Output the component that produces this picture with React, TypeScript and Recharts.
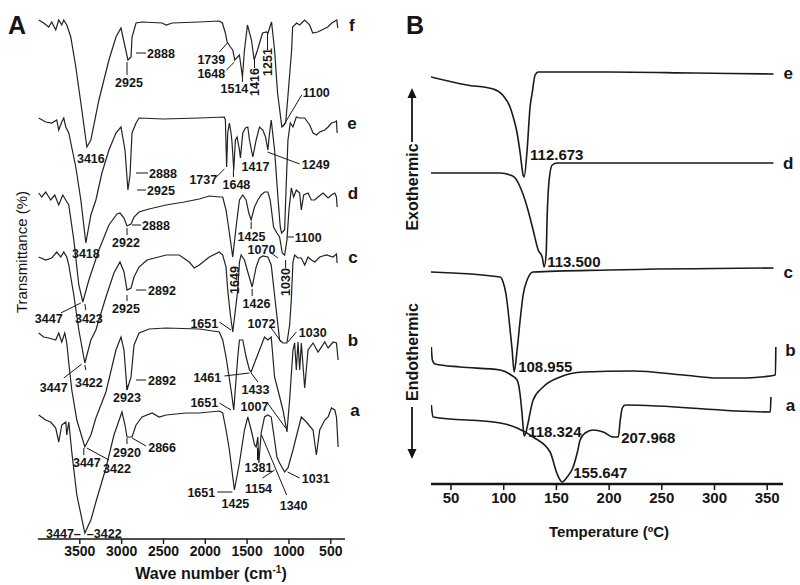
import React from 'react';
import { LineChart, Line, XAxis, YAxis, ReferenceLine, ReferenceDot } from 'recharts';

type Pt = [number, number];
type Note = { t: string; x: number; y: number; a?: 'start' | 'middle' | 'end'; r?: boolean };

const FONT = '"Liberation Sans", Arial, sans-serif';
const INK = '#151515';

// ---------- Panel A: FTIR (wave number, trace depth read from top) ----------
const ftirTicks = [3500, 3000, 2500, 2000, 1500, 1000, 500];

const ftirF: Pt[] = [
  [3992, 20], [3932, 23], [3872, 27], [3836, 22], [3788, 30], [3752, 20], [3716, 25], [3692, 20], [3656, 25],
  [3608, 37], [3548, 67], [3476, 110], [3416, 147], [3368, 140], [3272, 100], [3152, 60], [3068, 37], [3008, 28],
  [2925, 60], [2888, 57], [2876, 37], [2828, 23], [2756, 22], [2516, 23], [2468, 25], [2396, 23], [2072, 22],
  [1832, 21], [1796, 23], [1760, 33], [1739, 42], [1700, 47], [1672, 50], [1648, 60], [1592, 55], [1556, 77],
  [1532, 50], [1496, 25], [1448, 40], [1416, 60], [1376, 50], [1316, 33], [1268, 32], [1251, 33], [1208, 22],
  [1172, 50], [1136, 93], [1085, 127], [1040, 123], [1016, 100], [968, 50], [956, 27], [908, 23], [872, 25],
  [812, 20], [752, 25], [716, 33], [656, 32], [608, 30], [536, 27], [488, 23], [428, 20], [416, 28],
];

const ftirE: Pt[] = [
  [3992, 118], [3908, 122], [3836, 123], [3776, 120], [3752, 130], [3716, 122], [3692, 118], [3668, 127],
  [3632, 133], [3548, 167], [3488, 200], [3428, 243], [3368, 215], [3308, 200], [3236, 173], [3152, 150],
  [3068, 133], [3008, 127], [2960, 150], [2925, 190], [2900, 175], [2876, 133], [2828, 123], [2792, 118],
  [2500, 119], [2072, 118], [1772, 117], [1760, 120], [1745, 167], [1732, 133], [1712, 123], [1692, 133],
  [1680, 143], [1660, 170], [1640, 140], [1620, 137], [1592, 150], [1580, 158], [1552, 133], [1520, 128],
  [1492, 127], [1472, 140], [1432, 157], [1392, 140], [1352, 127], [1312, 130], [1280, 137], [1252, 150],
  [1232, 133], [1212, 120], [1172, 150], [1132, 197], [1104, 227], [1088, 233], [1052, 230], [1032, 183],
  [1012, 140], [984, 123], [952, 127], [912, 117], [872, 118], [812, 118], [752, 125], [712, 133], [672, 135],
  [632, 132], [572, 130], [532, 127], [492, 123], [452, 122], [432, 121], [424, 133],
];

const ftirD: Pt[] = [
  [3992, 193], [3956, 197], [3908, 192], [3848, 200], [3800, 195], [3752, 205], [3704, 195], [3668, 200],
  [3632, 205], [3572, 240], [3512, 285], [3464, 302], [3392, 280], [3272, 250], [3152, 225], [3056, 214],
  [3020, 213], [2972, 218], [2936, 226], [2888, 224], [2852, 217], [2792, 212], [2672, 209], [2468, 205],
  [2252, 202], [2072, 199], [1952, 196], [1832, 197], [1792, 197], [1752, 210], [1712, 233], [1672, 257],
  [1632, 227], [1592, 200], [1552, 195], [1512, 200], [1480, 213], [1452, 220], [1412, 207], [1372, 200],
  [1332, 195], [1292, 192], [1252, 192], [1224, 200], [1184, 227], [1144, 233], [1112, 237], [1080, 253],
  [1052, 255], [1024, 240], [1000, 210], [972, 188], [944, 197], [912, 190], [872, 193], [852, 210], [824, 195],
  [772, 193], [732, 200], [692, 200], [652, 197], [592, 193], [532, 198], [492, 195], [452, 193], [432, 197],
  [424, 207],
];

const ftirC: Pt[] = [
  [3992, 257], [3908, 260], [3836, 258], [3776, 252], [3728, 257], [3692, 252], [3656, 257], [3632, 265],
  [3572, 295], [3512, 330], [3440, 363], [3368, 340], [3308, 330], [3188, 297], [3092, 273], [3020, 262],
  [2972, 272], [2936, 290], [2888, 288], [2852, 277], [2792, 267], [2696, 260], [2468, 255], [2312, 255],
  [2192, 262], [2132, 268], [2072, 265], [1952, 257], [1832, 252], [1792, 255], [1752, 267], [1732, 290],
  [1700, 315], [1672, 332], [1640, 310], [1612, 290], [1592, 262], [1572, 255], [1532, 260], [1492, 272],
  [1440, 287], [1392, 267], [1352, 258], [1312, 256], [1252, 257], [1212, 265], [1172, 295], [1132, 325],
  [1112, 340], [1072, 343], [1024, 343], [992, 325], [972, 300], [952, 262], [932, 255], [892, 258], [852, 258],
  [812, 265], [772, 257], [732, 260], [692, 262], [632, 257], [552, 255], [472, 257], [432, 254], [424, 263],
];

const ftirB: Pt[] = [
  [3992, 333], [3932, 337], [3872, 338], [3788, 340], [3752, 333], [3716, 342], [3680, 333], [3656, 343],
  [3632, 363], [3596, 390], [3536, 420], [3440, 447], [3368, 435], [3308, 418], [3188, 392], [3068, 350],
  [3008, 337], [2972, 350], [2936, 390], [2888, 377], [2852, 345], [2792, 333], [2672, 329], [2468, 328],
  [2072, 329], [1832, 332], [1792, 340], [1752, 357], [1692, 390], [1660, 410], [1612, 357], [1592, 340],
  [1552, 340], [1512, 357], [1472, 370], [1452, 372], [1412, 363], [1352, 350], [1292, 337], [1252, 340],
  [1212, 337], [1172, 377], [1132, 390], [1072, 410], [1024, 432], [992, 400], [952, 350], [932, 343],
  [912, 370], [892, 342], [872, 370], [852, 343], [812, 388], [772, 350], [712, 343], [652, 352], [572, 342],
  [532, 348], [472, 342], [432, 343], [412, 360],
];

const ftirA: Pt[] = [
  [3992, 415], [3908, 420], [3848, 422], [3788, 428], [3752, 442], [3716, 425], [3668, 422], [3656, 435],
  [3632, 422], [3596, 452], [3536, 495], [3440, 533], [3368, 520], [3308, 502], [3188, 468], [3092, 435],
  [2996, 412], [2960, 425], [2936, 437], [2876, 437], [2828, 425], [2756, 417], [2636, 413], [2552, 417],
  [2468, 415], [2228, 413], [2072, 413], [1832, 411], [1792, 413], [1752, 430], [1712, 450], [1652, 490],
  [1592, 463], [1532, 430], [1492, 417], [1452, 430], [1432, 437], [1412, 445], [1392, 447], [1372, 437],
  [1360, 463], [1332, 433], [1292, 417], [1252, 415], [1212, 417], [1172, 440], [1144, 457], [1112, 463],
  [1052, 472], [1012, 468], [952, 450], [892, 430], [852, 417], [792, 422], [712, 430], [672, 455], [632, 430],
  [572, 420], [532, 417], [492, 408], [452, 410], [432, 417], [412, 447],
];

const ftirSeries = [ftirF, ftirE, ftirD, ftirC, ftirB, ftirA];

const ftirNotes: Note[] = [
  // f
  { t: '2888', x: 2696, y: 53, a: 'start' }, { t: '2925', x: 2912, y: 82 }, { t: '1739', x: 1928, y: 59 },
  { t: '1648', x: 1928, y: 73 }, { t: '1514', x: 1652, y: 88 }, { t: '1416', x: 1412, y: 82, r: true },
  { t: '1251', x: 1256, y: 62, r: true }, { t: '1100', x: 836, y: 92, a: 'start' },
  // e
  { t: '3416', x: 3368, y: 158 }, { t: '2888', x: 2672, y: 173, a: 'start' }, { t: '2925', x: 2696, y: 190, a: 'start' },
  { t: '1737', x: 2024, y: 179 }, { t: '1648', x: 1628, y: 184 }, { t: '1417', x: 1400, y: 166 },
  { t: '1249', x: 680, y: 164 },
  // d
  { t: '2922', x: 2948, y: 242 }, { t: '2888', x: 2756, y: 225, a: 'start' }, { t: '3418', x: 3428, y: 253 },
  { t: '1425', x: 1448, y: 236 }, { t: '1100', x: 932, y: 237, a: 'start' }, { t: '1070', x: 1328, y: 249 },
  { t: '1030', x: 1040, y: 282, r: true }, { t: '1649', x: 1652, y: 280, r: true },
  // c
  { t: '3447', x: 3872, y: 318 }, { t: '3423', x: 3392, y: 318 }, { t: '2925', x: 2948, y: 308 },
  { t: '2892', x: 2684, y: 290, a: 'start' }, { t: '1426', x: 1388, y: 303 }, { t: '1651', x: 2012, y: 323 },
  { t: '1072', x: 1328, y: 323 }, { t: '1030', x: 716, y: 332 },
  // b
  { t: '3447', x: 3812, y: 387 }, { t: '3422', x: 3392, y: 382 }, { t: '2923', x: 2936, y: 397 },
  { t: '2892', x: 2684, y: 380, a: 'start' }, { t: '1461', x: 1976, y: 377 }, { t: '1433', x: 1400, y: 389 },
  { t: '1651', x: 2012, y: 402 }, { t: '1007', x: 1412, y: 406 },
  // a
  { t: '3447', x: 3416, y: 462 }, { t: '3422', x: 3056, y: 468 }, { t: '2920', x: 2936, y: 452 },
  { t: '2866', x: 2516, y: 447 }, { t: '3447–', x: 3488, y: 533, a: 'end' }, { t: '–3422', x: 3416, y: 533, a: 'start' },
  { t: '1651', x: 2048, y: 492 }, { t: '1425', x: 1640, y: 503 }, { t: '1381', x: 1364, y: 467 },
  { t: '1154', x: 1364, y: 488 }, { t: '1340', x: 944, y: 505 }, { t: '1031', x: 680, y: 478 },
];

const ftirLeaders: [number, number, number, number][] = [
  [2828, 53, 2708, 53], [2936, 62, 2936, 75], [1832, 52, 1736, 43], [1748, 70, 1652, 62], [1556, 77, 1556, 82],
  [1412, 60, 1412, 68], [1256, 32, 1256, 50], [1076, 127, 848, 95],
  [2828, 173, 2684, 173], [2816, 190, 2708, 190], [1868, 177, 1772, 169], [1664, 170, 1664, 177], [1256, 152, 872, 164],
  [2936, 228, 2936, 235], [2876, 225, 2768, 225], [1452, 222, 1452, 229], [1024, 237, 940, 237], [1212, 253, 1132, 258],
  [1040, 260, 1040, 268],
  [3728, 313, 3488, 303], [3428, 310, 3440, 304], [2936, 295, 2936, 301], [2828, 290, 2708, 290], [1440, 289, 1440, 296],
  [1832, 322, 1692, 330], [1212, 328, 1092, 342], [912, 332, 1012, 342],
  [3692, 378, 3476, 364], [3428, 370, 3440, 365], [2936, 385, 2936, 390], [2828, 380, 2708, 380], [1772, 376, 1472, 373],
  [1452, 373, 1372, 382], [1832, 403, 1692, 410], [1256, 403, 1040, 428],
  [3452, 448, 3452, 455], [3416, 448, 3152, 460], [2936, 438, 2936, 444], [2876, 438, 2708, 446], [1856, 492, 1676, 492],
  [1376, 448, 1376, 460], [1316, 478, 1172, 470], [1328, 435, 1028, 495], [1016, 472, 872, 478],
];

const ftirTags: Note[] = [
  { t: 'f', x: 248, y: 25 }, { t: 'e', x: 248, y: 123 }, { t: 'd', x: 236, y: 193 },
  { t: 'c', x: 236, y: 257 }, { t: 'b', x: 236, y: 340 }, { t: 'a', x: 212, y: 410 },
];

// ---------- Panel B: DSC (temperature, trace depth read from top) ----------
const dscTicks = [50, 100, 150, 200, 250, 300, 350];

const dscE: Pt[] = [
  [31, 77], [65, 85], [90, 89], [99, 95], [106, 107], [109, 117], [112.7, 133], [115.6, 153], [118.4, 175],
  [119.4, 177], [122.2, 150], [125, 107], [127, 93], [129.8, 75], [132.7, 72], [200, 72], [280, 73], [356, 74],
];
const dscD: Pt[] = [
  [31, 173], [96.6, 173], [106, 175], [110.8, 178], [115.6, 187], [122.2, 207], [127.9, 230], [132.7, 250],
  [136.5, 257], [138.4, 267], [140.3, 253], [141.2, 217], [143.1, 180], [146, 165], [150.7, 163], [356, 163],
];
const dscC: Pt[] = [
  [31, 272], [96.6, 277], [99.4, 282], [102.3, 295], [105.1, 320], [108, 350], [109.9, 372], [112.7, 350],
  [115.6, 320], [118.4, 295], [122.2, 280], [127.9, 272], [200, 270], [356, 268],
];
const dscB: Pt[] = [
  [31.3, 347], [32.3, 360], [34.8, 364], [58.6, 367], [96.6, 370], [107, 375], [112.7, 380], [115.6, 395],
  [117.5, 415], [119.4, 436], [121.2, 432], [123.1, 423], [127.9, 400], [137.4, 387], [153.5, 377], [175.4, 372],
  [222.9, 371], [270.4, 375], [302.7, 378], [327.4, 378], [343.5, 377], [357.8, 375], [358.2, 347],
];
const dscA: Pt[] = [
  [31.3, 405], [32.9, 417], [96.6, 423], [112.7, 428], [127.9, 437], [144, 452], [150.7, 474], [155.4, 482],
  [160.2, 477], [165.9, 467], [169.7, 453], [172.5, 440], [177.3, 433], [184.9, 430], [194.4, 432], [204, 437],
  [208.7, 437], [210.6, 420], [212.5, 408], [215.3, 405], [353, 412], [353.5, 397],
];
const dscSeries = [dscE, dscD, dscC, dscB, dscA];

const dscNotes: Note[] = [
  { t: '112.673', x: 125, y: 155, a: 'start' }, { t: '113.500', x: 141.2, y: 262, a: 'start' },
  { t: '108.955', x: 113.7, y: 367, a: 'start' }, { t: '118.324', x: 123.2, y: 432, a: 'start' },
  { t: '207.968', x: 211.5, y: 438, a: 'start' }, { t: '155.647', x: 165.9, y: 473, a: 'start' },
];
const dscTags: Note[] = [
  { t: 'e', x: 370, y: 73 }, { t: 'd', x: 370, y: 163 }, { t: 'c', x: 370, y: 272 },
  { t: 'b', x: 372, y: 350 }, { t: 'a', x: 372, y: 405 },
];

const toRows = (pts: Pt[]) => pts.map(([x, y]) => ({ x, y }));

const NoteText = (props: any) => {
  const { viewBox, text, anchor = 'middle', rotate = false, size = 13 } = props;
  if (!viewBox) return null;
  const cx = viewBox.x + (viewBox.width || 0) / 2;
  const cy = viewBox.y + (viewBox.height || 0) / 2;
  return (
    <text
      x={cx}
      y={cy}
      dy="0.36em"
      textAnchor={anchor}
      fontSize={size}
      fontWeight="bold"
      fontFamily={FONT}
      fill={INK}
      transform={rotate ? `rotate(-90 ${cx} ${cy})` : undefined}
    >
      {text}
    </text>
  );
};

const renderNotes = (notes: Note[], prefix: string, size: number) =>
  notes.map((n, i) => (
    <ReferenceDot
      key={prefix + i}
      x={n.x}
      y={n.y}
      r={0}
      fill="none"
      stroke="none"
      ifOverflow="visible"
      label={<NoteText text={n.t} anchor={n.a} rotate={n.r} size={size} />}
    />
  ));

const tickStyle = (size: number) => ({ fill: INK, fontSize: size, fontWeight: 'bold' as const, fontFamily: FONT });

export default function App() {
  return (
    <div style={{ position: 'absolute', left: 0, top: 0, width: 800, height: 585, background: '#fff' }}>
      <div style={{ position: 'absolute', left: 0, top: 0 }}>
        <LineChart width={400} height={585} margin={{ top: 5, right: 55, bottom: 16, left: 38 }}>
          <XAxis
            type="number"
            dataKey="x"
            domain={[330, 4000]}
            reversed
            allowDataOverflow
            ticks={ftirTicks}
            height={30}
            tickSize={5}
            tick={tickStyle(14)}
            axisLine={{ stroke: INK, strokeWidth: 1.6 }}
            tickLine={{ stroke: INK, strokeWidth: 1.4 }}
          />
          <YAxis
            type="number"
            dataKey="y"
            domain={[5, 539]}
            reversed
            allowDataOverflow
            width={0}
            tick={false}
            tickLine={false}
            axisLine={{ stroke: INK, strokeWidth: 1.6 }}
          />
          {ftirSeries.map((s, i) => (
            <Line
              key={'ftir' + i}
              data={toRows(s)}
              dataKey="y"
              type="linear"
              stroke="#222"
              strokeWidth={1.2}
              dot={false}
              isAnimationActive={false}
            />
          ))}
          {ftirLeaders.map((l, i) => (
            <ReferenceLine
              key={'ld' + i}
              segment={[{ x: l[0], y: l[1] }, { x: l[2], y: l[3] }]}
              stroke={INK}
              strokeWidth={1}
              ifOverflow="visible"
            />
          ))}
          {renderNotes(ftirNotes, 'fn', 12.5)}
          {renderNotes(ftirTags, 'ft', 17)}
        </LineChart>
      </div>
      <div style={{ position: 'absolute', left: 400, top: 0 }}>
        <LineChart width={400} height={585} margin={{ top: 60, right: 17, bottom: 71, left: 31 }}>
          <XAxis
            type="number"
            dataKey="x"
            domain={[31, 365]}
            allowDataOverflow
            ticks={dscTicks}
            height={30}
            tickSize={6}
            tick={tickStyle(15)}
            axisLine={{ stroke: INK, strokeWidth: 2.5 }}
            tickLine={{ stroke: INK, strokeWidth: 1.5 }}
          />
          <YAxis
            type="number"
            dataKey="y"
            domain={[60, 484]}
            reversed
            allowDataOverflow
            width={0}
            tick={false}
            tickLine={false}
            axisLine={{ stroke: INK, strokeWidth: 2.5 }}
          />
          {dscSeries.map((s, i) => (
            <Line
              key={'dsc' + i}
              data={toRows(s)}
              dataKey="y"
              type="monotone"
              stroke="#1a1a1a"
              strokeWidth={1.6}
              dot={false}
              isAnimationActive={false}
            />
          ))}
          {renderNotes(dscNotes, 'dn', 15)}
          {renderNotes(dscTags, 'dt', 17)}
        </LineChart>
      </div>
      <svg width={800} height={585} style={{ position: 'absolute', left: 0, top: 0, pointerEvents: 'none' }}>
        <g fontFamily={FONT} fill={INK}>
          <text x={17} y={34} textAnchor="middle" fontSize={25} fontWeight="bold">A</text>
          <text x={415} y={34} textAnchor="middle" fontSize={25} fontWeight="bold">B</text>
          <text x={22} y={252} dy="0.35em" textAnchor="middle" fontSize={15} transform="rotate(-90 22 252)">
            Transmittance (%)
          </text>
          <text x={211} y={579} textAnchor="middle" fontSize={16} fontWeight="bold">
            Wave number (cm<tspan dy={-6} fontSize={10}>-1</tspan><tspan dy={6}>)</tspan>
          </text>
          <text x={609} y={537} textAnchor="middle" fontSize={15} fontWeight="bold">Temperature (ºC)</text>
          <text x={412} y={187} dy="0.35em" textAnchor="middle" fontSize={16} fontWeight="bold" transform="rotate(-90 412 187)">
            Exothermic
          </text>
          <text x={412} y={352} dy="0.35em" textAnchor="middle" fontSize={16} fontWeight="bold" transform="rotate(-90 412 352)">
            Endothermic
          </text>
        </g>
        <line x1={412} y1={142} x2={412} y2={96} stroke={INK} strokeWidth={1.8} />
        <polygon points="412,88 407.5,98 416.5,98" fill={INK} />
        <line x1={412} y1={407} x2={412} y2={451} stroke={INK} strokeWidth={1.8} />
        <polygon points="412,459 407.5,449 416.5,449" fill={INK} />
      </svg>
    </div>
  );
}
